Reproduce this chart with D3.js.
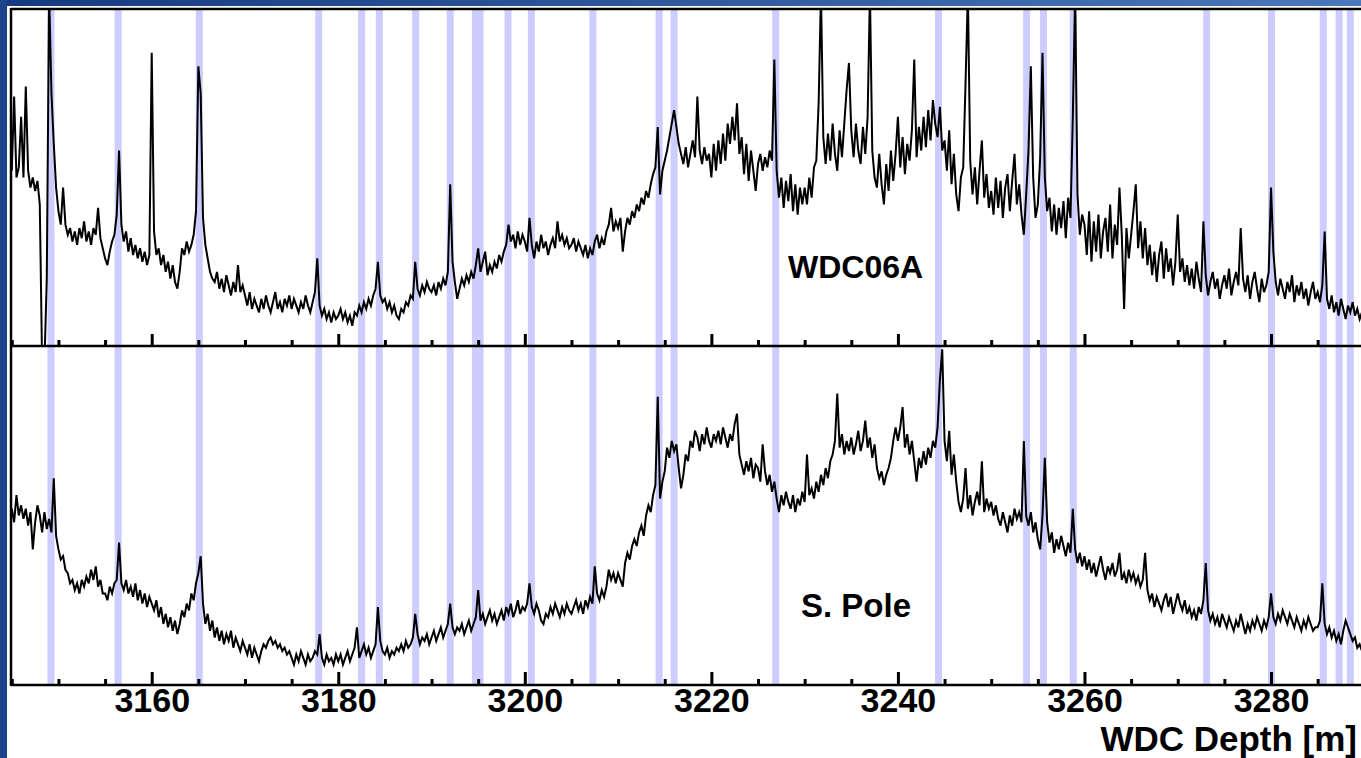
<!DOCTYPE html>
<html>
<head>
<meta charset="utf-8">
<script src="https://cdnjs.cloudflare.com/ajax/libs/d3/7.8.5/d3.min.js"></script>
<style>
body { margin: 0; background: #fff; overflow: hidden; }
#chart { width: 1361px; height: 758px; }
</style>
</head>
<body>
<div id="chart"></div>
<script>
// samples every 0.25 m from 3145 m
var depthStart = 3145;
var depthStep = 0.25;

var wdc06a = [
	52,74,50,53,68,50,77,52,47,50,46,49,42,-5,-5,20,105,75,60,47,
	40,36,47,36,33,35,31,34,30,35,32,37,31,34,30,35,33,41,32,29,
	26,24,28,31,33,39,58,36,31,34,28,32,27,30,26,29,25,28,24,27,
	87,34,27,29,24,27,22,25,20,24,19,17,22,29,27,31,28,30,33,40,
	83,75,38,30,26,22,20,19,22,17,20,16,21,18,15,19,16,24,16,18,
	15,12,16,11,14,12,10,14,11,15,12,10,13,16,11,13,10,14,12,15,
	11,14,12,10,13,11,15,12,10,13,16,26,12,9,11,8,10,7,10,8,
	9,11,8,10,7,9,6,10,9,12,10,13,11,14,12,15,17,25,15,13,
	14,11,13,10,12,9,8,11,10,13,12,15,14,25,17,15,18,16,19,17,
	16,18,15,19,17,20,18,22,48,25,19,14,17,20,18,21,19,22,20,24,
	29,22,25,28,21,24,22,25,23,27,25,28,30,36,31,33,29,34,30,33,
	31,28,38,30,26,31,28,33,29,31,27,30,32,29,37,31,33,30,32,29,
	30,32,28,31,29,27,30,26,29,27,31,33,29,32,30,34,36,41,34,37,
	35,38,28,34,38,36,40,38,42,40,44,42,46,44,48,51,53,65,45,52,
	55,58,62,66,70,65,60,57,54,59,53,57,61,56,74,58,54,59,55,57,
	50,60,52,61,54,63,55,66,60,68,61,72,57,62,51,60,49,58,52,46,
	54,57,52,56,53,58,55,85,52,44,50,41,49,43,51,40,48,39,47,42,
	47,42,50,44,53,55,72,105,62,54,63,55,66,57,52,64,56,66,76,84,
	64,56,66,58,54,65,57,68,105,58,50,47,57,48,42,54,46,58,49,57,
	68,53,62,51,60,55,64,85,56,65,58,68,59,70,61,73,66,62,71,58,
	61,52,64,48,57,45,40,50,53,78,105,55,45,53,42,52,61,44,51,41,
	46,39,50,41,49,38,47,51,40,49,57,42,48,39,33,45,58,83,50,38,
	42,56,87,50,40,44,34,42,33,41,35,43,32,44,38,68,105,45,33,39,
	36,27,40,25,37,28,39,26,34,38,28,42,26,36,30,47,33,11,35,26,
	33,40,48,29,37,26,35,24,30,21,28,19,27,31,20,29,22,26,18,25,
	39,22,26,19,24,18,23,17,25,20,16,37,21,15,19,22,17,20,14,18,
	21,17,23,15,19,22,18,35,20,16,21,14,19,22,17,13,20,16,18,22,
	47,28,19,15,20,17,14,19,16,21,13,18,15,19,14,17,12,16,19,14,
	16,13,18,34,14,11,15,10,13,9,14,11,8,12,10,13,9,11,8,10,
	9
];

var sPole = [
	52,48,56,50,53,49,52,47,51,40,48,53,50,45,51,46,49,45,61,44,
	40,37,38,34,33,30,31,28,30,27,31,29,32,30,34,31,35,29,31,27,
	27,25,29,27,30,31,42,30,28,31,27,29,26,30,25,28,24,27,23,26,
	24,22,25,20,23,18,21,17,20,16,19,15,18,22,20,24,22,27,25,30,
	33,38,24,18,21,16,19,14,17,13,16,12,15,13,16,11,14,12,10,13,
	11,9,12,8,11,9,7,10,12,11,13,14,12,13,11,12,10,11,9,10,
	8,6,9,7,10,8,6,9,7,8,10,9,15,8,6,9,7,8,6,9,
	7,9,6,8,10,7,9,11,17,8,10,12,9,11,8,10,12,23,13,10,
	9,11,8,10,9,11,10,12,10,13,11,12,14,21,15,12,14,13,15,12,
	14,16,13,15,17,14,16,18,24,17,15,17,16,18,15,17,19,16,18,20,
	28,19,21,18,20,22,19,21,18,20,22,19,23,21,24,20,22,25,21,23,
	22,24,30,23,21,24,22,19,18,21,20,23,21,24,22,20,23,21,24,22,
	21,23,25,22,24,21,25,23,26,24,35,27,25,28,26,29,34,31,33,30,
	33,31,29,36,39,37,41,43,41,45,47,44,50,53,51,56,59,85,55,60,
	63,70,67,72,69,71,64,58,62,68,66,72,70,75,73,69,74,71,76,72,
	70,74,72,75,71,76,73,70,74,72,77,80,68,65,62,66,63,67,61,65,
	64,60,71,63,59,62,57,60,55,51,56,53,57,54,52,56,51,55,53,57,
	54,68,56,58,55,60,57,62,59,64,61,66,68,72,86,70,74,68,72,69,
	73,68,71,75,69,72,78,70,73,67,71,64,61,63,59,62,64,67,72,76,
	72,76,82,70,74,68,72,66,60,67,64,69,65,70,67,72,70,76,90,99,
	72,66,75,62,68,60,54,51,55,64,52,56,50,54,57,53,66,51,55,52,
	54,50,53,49,47,51,48,45,50,47,52,49,51,48,72,50,47,51,45,48,
	43,40,50,67,48,42,45,39,43,40,44,41,38,42,39,52,40,36,39,35,
	38,34,37,33,36,32,35,38,34,31,35,33,36,32,34,39,31,33,30,34,
	31,33,30,32,29,31,39,28,25,27,23,26,24,22,25,27,23,26,21,24,
	27,24,22,25,21,23,20,22,19,23,21,25,36,22,19,21,18,20,17,21,
	19,17,20,18,16,19,17,21,18,15,18,16,19,17,20,18,16,19,17,20,
	27,20,18,21,19,22,20,18,21,19,17,20,18,16,19,17,20,18,16,17,
	17,19,30,18,15,17,14,16,13,15,12,16,19,17,15,13,14,11,12,10,
	12
];

// tie-point depths (shaded bands)
var eventDepths = [3149.2, 3156.4, 3165.1, 3177.9, 3182.5, 3184.4, 3188.3, 3192.0,
	3194.7, 3195.2, 3198.2, 3200.7, 3207.3, 3214.4, 3216.0, 3226.9, 3244.35,
	3253.8, 3255.6, 3258.8, 3273.1, 3280.05, 3285.6, 3287.3, 3288.5];

var tickLabels = [3160, 3180, 3200, 3220, 3240, 3260, 3280];
var minorTicks = [3145, 3150, 3155, 3165, 3170, 3175, 3185, 3190, 3195, 3205, 3210, 3215,
	3225, 3230, 3235, 3245, 3250, 3255, 3265, 3270, 3275, 3285, 3290];

var panelNames = ["WDC06A", "S. Pole"];

var width = 1361;
var height = 758;
var plot = {left:11, top:9, mid:346, bottom:685};
var bandWidth = 0.75;
var font = "'Liberation Sans', Arial, Helvetica, sans-serif";

var svg = d3.select("#chart")
	.append("svg")
	.attr("width", width)
	.attr("height", height);

// slide background: blue strips at top and left
var defs = svg.append("defs");
var grad = defs.append("linearGradient")
	.attr("id", "topStrip")
	.attr("x1", "0%").attr("y1", "0%")
	.attr("x2", "100%").attr("y2", "0%");
grad.append("stop").attr("offset", "0%").style("stop-color", "#163a80");
grad.append("stop").attr("offset", "100%").style("stop-color", "#4a77be");

svg.append("rect")
	.attr("x", 0).attr("y", 0)
	.attr("width", width).attr("height", 6)
	.attr("fill", "url(#topStrip)");
svg.append("rect")
	.attr("x", 0).attr("y", 0)
	.attr("width", 7).attr("height", height)
	.attr("fill", "#1b4489");

var xScale = d3.scaleLinear()
	.domain([3145, 3290])
	.range([11.8, 1364.3]);

var yTop = d3.scaleLinear().domain([0, 100]).range([plot.mid, plot.top]);
var yBot = d3.scaleLinear().domain([0, 100]).range([plot.bottom, plot.mid]);

defs.append("clipPath").attr("id", "clipTop")
	.append("rect")
	.attr("x", plot.left).attr("y", plot.top)
	.attr("width", width - plot.left).attr("height", plot.mid - plot.top);
defs.append("clipPath").attr("id", "clipBot")
	.append("rect")
	.attr("x", plot.left).attr("y", plot.mid)
	.attr("width", width - plot.left).attr("height", plot.bottom - plot.mid);

// shaded bands through both panels
svg.append("g")
	.attr("class", "bands")
	.selectAll("rect")
	.data(eventDepths)
	.enter()
	.append("rect")
	.attr("x", function(d){ return xScale(d - bandWidth / 2); })
	.attr("y", plot.top)
	.attr("width", function(d){ return xScale(d + bandWidth / 2) - xScale(d - bandWidth / 2); })
	.attr("height", plot.bottom - plot.top)
	.attr("fill", "#ccccff");

function depthAt(i){ return depthStart + i * depthStep; }

var lineTop = d3.line()
	.x(function(d, i){ return xScale(depthAt(i)); })
	.y(function(d){ return yTop(d); });
var lineBot = d3.line()
	.x(function(d, i){ return xScale(depthAt(i)); })
	.y(function(d){ return yBot(d); });

svg.append("path")
	.datum(wdc06a)
	.attr("clip-path", "url(#clipTop)")
	.attr("fill", "none")
	.attr("stroke", "#000")
	.attr("stroke-width", 2)
	.attr("d", lineTop);

svg.append("path")
	.datum(sPole)
	.attr("clip-path", "url(#clipBot)")
	.attr("fill", "none")
	.attr("stroke", "#000")
	.attr("stroke-width", 2)
	.attr("d", lineBot);

// frame
var frame = svg.append("g").attr("stroke", "#000").attr("stroke-width", 2.5);
frame.append("line").attr("x1", plot.left).attr("x2", plot.left).attr("y1", plot.top - 1).attr("y2", plot.bottom + 1);
frame.append("line").attr("x1", plot.left).attr("x2", width).attr("y1", plot.top).attr("y2", plot.top);
frame.append("line").attr("x1", plot.left).attr("x2", width).attr("y1", plot.mid).attr("y2", plot.mid);
frame.append("line").attr("x1", plot.left).attr("x2", width).attr("y1", plot.bottom).attr("y2", plot.bottom);

// ticks pointing up into each panel
function addTicks(y, values, size, labels){
	var axis = d3.axisBottom(xScale)
		.tickValues(values)
		.tickSizeInner(-size)
		.tickSizeOuter(0)
		.tickPadding(3)
		.tickFormat(labels ? d3.format("d") : "");
	var g = svg.append("g")
		.attr("transform", "translate(0," + y + ")")
		.call(axis);
	g.select(".domain").remove();
	g.selectAll(".tick line").attr("stroke", "#000").attr("stroke-width", 3);
	g.selectAll(".tick text")
		.attr("fill", "#000")
		.style("font-family", font)
		.style("font-weight", "bold")
		.style("font-size", "34px");
	return g;
}

addTicks(plot.mid, minorTicks, 6, false);
addTicks(plot.mid, tickLabels, 12, false);
addTicks(plot.bottom, minorTicks, 6, false);
addTicks(plot.bottom, tickLabels, 13, true);

svg.append("text")
	.attr("x", 1357)
	.attr("y", 751)
	.attr("text-anchor", "end")
	.style("font-family", font)
	.style("font-weight", "bold")
	.style("font-size", "35px")
	.text("WDC Depth [m]");

svg.append("text")
	.attr("x", 788)
	.attr("y", 278)
	.style("font-family", font)
	.style("font-weight", "bold")
	.style("font-size", "32px")
	.text(panelNames[0]);

svg.append("text")
	.attr("x", 801)
	.attr("y", 617)
	.style("font-family", font)
	.style("font-weight", "bold")
	.style("font-size", "33px")
	.text(panelNames[1]);
</script>
</body>
</html>
